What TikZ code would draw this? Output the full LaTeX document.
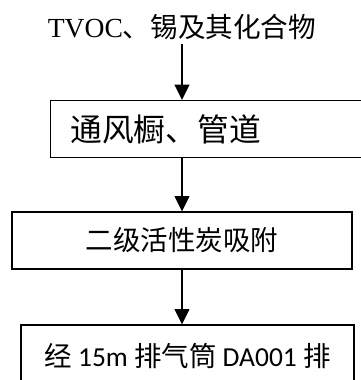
\documentclass[tikz,border=0pt]{standalone}
\usepackage{fontspec}
\setmainfont{Liberation Serif}
\newfontfamily\cjk{Noto Sans CJK SC}
\newfontfamily\cali{Carlito}
\usetikzlibrary{arrows.meta}
\tikzset{
box/.style={draw, line width=0.8pt, minimum height=42.75pt, inner sep=0pt},
flow/.style={line width=1.2pt, -{Triangle[width=11pt,length=11.5pt]}}
}
\begin{document}
\begin{tikzpicture}[x=0.75pt,y=-0.75pt]
\useasboundingbox (0,0) rectangle (361,380);
\clip (0,0) rectangle (361,380);
%source
\node (src) at (182,27) {\fontsize{20.7pt}{24pt}\selectfont TVOC\cjk 、锡及其化合物};
%boxes
\node[box, anchor=north west, text width=232.5pt, inner xsep=15pt, align=left] (hood) at (50,100)
  {\fontsize{23.8pt}{28pt}\selectfont\cjk 通风橱、管道};
\node[box, minimum width=255pt] (carbon) at (182,240.5)
  {\fontsize{20.6pt}{24pt}\selectfont\cjk 二级活性炭吸附};
\node[box, minimum width=249.75pt, minimum height=46.5pt] (stack) at (187.5,356)
  {\fontsize{20.6pt}{24pt}\selectfont\cjk 经{\cali\ 15m }排气筒{\cali\ DA001 }排};
%arrows
\draw[flow] (src) -- (src |- hood.north);
\draw[flow] (hood.south -| carbon) -- (carbon);
\draw[flow] (carbon) -- (carbon |- stack.north);
\end{tikzpicture}
\end{document}
